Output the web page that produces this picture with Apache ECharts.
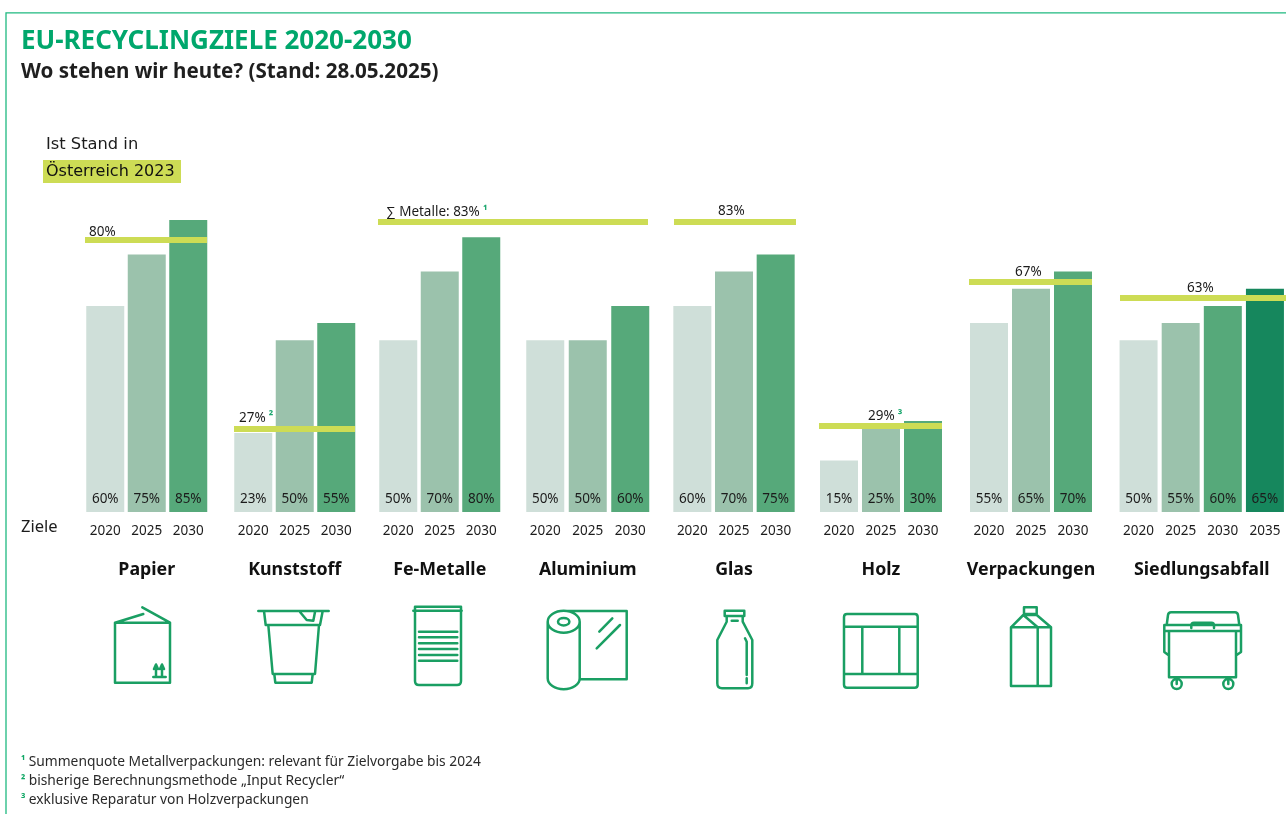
<!DOCTYPE html>
<html lang="de"><head><meta charset="utf-8">
<style>html,body{margin:0;padding:0;background:#fff}#c{width:1286px;height:814px}</style>
<script src="https://cdn.jsdelivr.net/npm/echarts@6/dist/echarts.min.js"></script>
</head><body><div id="c"></div>
<script>
// ---------- data ----------
const materials = ['Papier','Kunststoff','Fe-Metalle','Aluminium','Glas','Holz','Verpackungen','Siedlungsabfall'];
const yearsPapier = ['2020','2025','2030'];
const yearsKunststoff = ['2020','2025','2030'];
const yearsFe = ['2020','2025','2030'];
const yearsAlu = ['2020','2025','2030'];
const yearsGlas = ['2020','2025','2030'];
const yearsHolz = ['2020','2025','2030'];
const yearsVerp = ['2020','2025','2030'];
const yearsSied = ['2020','2025','2030','2035'];
// target values as printed in the bars
const zielePapier = [60,75,85];
const zieleKunststoff = [23,50,55];
const zieleFe = [50,70,80];
const zieleAlu = [50,50,60];
const zieleGlas = [60,70,75];
const zieleHolz = [15,25,30];
const zieleVerp = [55,65,70];
const zieleSied = [50,55,60,65];
// bar height as drawn: the reference draws Holz 2030 lower than its printed 30 %
const hoeheHolz = [15,25,26.5];
// current state: printed text and level as drawn in the reference
const istText = ['80%','27%','\u2211 Metalle: 83%','83%','29%','67%','63%'];
const istMark = ['','\u00B2','\u00B9','','\u00B3','',''];
const istLevel = [79.2,24.2,84.4,84.6,25,67,62.3];
const footnotes = [['\u00B9','Summenquote Metallverpackungen: relevant f\u00FCr Zielvorgabe bis 2024'],
                   ['\u00B2','bisherige Berechnungsmethode \u201EInput Recycler\u201C'],
                   ['\u00B3','exklusive Reparatur von Holzverpackungen']];

// ---------- layout and style ----------
const FONT = '"Noto Sans", sans-serif';
const LABELFONT = '"DejaVu Sans", sans-serif';
const yearColor = {'2020':'#cfdfd9','2025':'#9bc2ac','2030':'#56a97a','2035':'#16875d'};
const INK = '#1c1c1c', LIME = '#cddc55', ICON = '#1a9f63';
const Y_TOP = 168.5, Y_H = 343.5;
const groups = [
 {years:yearsPapier, vals:zielePapier, left:84.5, width:124.5},
 {years:yearsKunststoff, vals:zieleKunststoff, left:232.5, width:124.5},
 {years:yearsFe, vals:zieleFe, left:377.5, width:124.5},
 {years:yearsAlu, vals:zieleAlu, left:524, width:127.5},
 {years:yearsGlas, vals:zieleGlas, left:671.5, width:125},
 {years:yearsHolz, vals:zieleHolz, heights:hoeheHolz, left:818, width:126},
 {years:yearsVerp, vals:zieleVerp, left:968, width:126},
 {years:yearsSied, vals:zieleSied, left:1117.5, width:171}
];
const lineLayout = [
 {left:85, width:122, dx:4, top:1},
 {left:234, width:121, dx:5, top:4},
 {left:378, width:270, dx:8, top:3},
 {left:674, width:122, dx:44, top:3},
 {left:819, width:123, dx:49, top:3},
 {left:969, width:123, dx:46, top:3},
 {left:1120, width:166, dx:67, top:3}
];

const grid=[], xAxis=[], yAxis=[], series=[];
groups.forEach((g,i)=>{
  grid.push({left:g.left, width:g.width, top:Y_TOP, height:Y_H});
  xAxis.push({gridIndex:i, type:'category', data:g.years,
    name:materials[i], nameLocation:'middle', nameGap:49,
    nameTextStyle:{fontFamily:FONT, fontWeight:'bold', fontSize:17.8, color:'#111'},
    axisLine:{show:false}, axisTick:{show:false},
    axisLabel:{interval:0, margin:12, fontFamily:FONT, fontSize:13.5, color:INK}});
  yAxis.push({gridIndex:i, type:'value', min:0, max:100, show:false});
  const heights = g.heights || g.vals;
  series.push({type:'bar', xAxisIndex:i, yAxisIndex:i, barWidth:38, z:2, animation:false,
    data:heights.map((h,k)=>({value:h, itemStyle:{color:yearColor[g.years[k]]},
      label:{show:true, position:'insideBottom', distance:6, formatter:g.vals[k]+'%',
             fontFamily:FONT, fontSize:13.5, color:INK}}))});
});
lineLayout.forEach((l,j)=>{
  const i = groups.length + j;
  grid.push({left:l.left, width:l.width, top:Y_TOP, height:Y_H});
  xAxis.push({gridIndex:i, type:'category', data:[''], show:false});
  yAxis.push({gridIndex:i, type:'value', min:0, max:100, show:false});
  series.push({type:'line', xAxisIndex:i, yAxisIndex:i, data:[], z:5, animation:false, silent:true,
    markLine:{silent:true, symbol:'none', animation:false, z:5,
      lineStyle:{color:LIME, width:6, type:'solid', opacity:1},
      label:{show:true, position:'insideStartTop', distance:[l.dx,l.top],
        formatter:'{t|'+istText[j]+'}'+(istMark[j]?'{m| '+istMark[j]+'}':''),
        rich:{t:{fontFamily:FONT, fontSize:13.5, color:INK},
              m:{fontFamily:FONT, fontSize:12, fontWeight:'bold', color:'#1fa870', verticalAlign:'top'}}},
      data:[{yAxis:istLevel[j]}]}});
});

// icons
const icons = [
 'M115 622.7H170V682.7H115Z M115 622.7L143.3 614 M142.3 607.3L170 622.7 M156 676V666 M162 676V666 M153.3 677H165.7 M154 669L156 664.5L158 669 M160 669L162 664.5L164 669',
 'M258.3 611H328.7 M264 611L265.7 625H320L322.7 611 M268.3 625L272.7 674H315L319 625 M274.3 674L275.3 682.7H311.7L312.7 674 M300 612L306.7 620L313.3 620.7L315 612',
 'M415 606.7H461V681Q461 685 457 685H419Q415 685 415 681Z M413.3 610.7H461.7 M419 631.7H457.3 M419 637.3H457.3 M419 643.3H457.3 M419 649H457.3 M419 655H457.3 M419 660.7H457.3',
 'M547.7 621.7A16 11 0 1 1 579.7 621.7A16 11 0 1 1 547.7 621.7Z M558 621.7A5.7 3.7 0 1 1 569.4 621.7A5.7 3.7 0 1 1 558 621.7Z M547.7 621.7V678.3A16 11 0 0 0 579.7 678.3V621.7 M566.7 611H626.7V679.3H579.7 M599.3 631.7L612.3 618.3 M596.7 648.3L620 625',
 'M724.7 610.7H744.3V616H724.7Z M726.7 616V621.7L717.3 640V683.3Q717.3 688.3 722 688.3H748Q752.3 688.3 752.3 683.3V640L742.7 621.7V616 M731.7 620.7H737.7 M745 638.3L746.7 641.7V675 M746.7 678.3V683.3',
 'M847 614H914.7Q917.7 614 917.7 617V684.7Q917.7 687.7 914.7 687.7H847Q844 687.7 844 684.7V617Q844 614 847 614Z M844 626.7H917.7 M844 674H917.7 M862.3 626.7V674 M899.3 626.7V674',
 'M1011 627.3H1051V686H1011Z M1037.7 627.3V686 M1011 627.3L1023.3 615H1036.7L1051 627.3 M1023.3 615L1037.7 627.3 M1024 607.3H1036.7V614H1024Z',
 'M1166.7 625L1168 615Q1168.5 612.3 1171 612.3H1235Q1237.5 612.3 1238 615L1239.3 625 M1164.3 625H1241V631H1164.3Z M1164.3 631V652L1168.3 655 M1241 631V652L1236.7 655 M1169 631V677.3H1236V631 M1191.3 628V625.5Q1191.3 622.7 1194 622.7H1211.5Q1214 622.7 1214 625.5V628 M1171.7 684A5 5 0 1 0 1181.7 684A5 5 0 1 0 1171.7 684Z M1223.3 684A5 5 0 1 0 1233.3 684A5 5 0 1 0 1223.3 684Z M1176.7 679V684 M1228.3 679V684'
];
series.push({type:'custom', coordinateSystem:'none', data:[0], silent:true, animation:false, z:3,
  renderItem:()=>({type:'group', children:icons.map(d=>({type:'path', shape:{pathData:d},
    style:{fill:'none', stroke:ICON, lineWidth:2.5, lineJoin:'round', lineCap:'round'}}))})});

const graphic = [
 {type:'polyline', shape:{points:[[6,814],[6,12.8],[1286,12.8]]}, style:{fill:'none', stroke:'#1fb980', lineWidth:1.3}},
 {type:'rect', shape:{x:43,y:160,width:138,height:23}, style:{fill:LIME}},
 {type:'text', x:46, y:145, style:{text:'Ist Stand in', font:'16.3px '+LABELFONT, fill:INK, verticalAlign:'middle'}},
 {type:'text', x:46, y:172, style:{text:'\u00D6sterreich 2023', font:'16px '+LABELFONT, fill:'#111', verticalAlign:'middle'}},
 {type:'text', x:21, y:527, style:{text:'Ziele', font:'16.5px '+FONT, fill:INK, verticalAlign:'middle'}}
];
footnotes.forEach((f,i)=>graphic.push({type:'text', x:21, y:762+19*i,
  style:{text:'{m|'+f[0]+'} {t|'+f[1]+'}', verticalAlign:'middle',
    rich:{m:{fontFamily:FONT, fontSize:11.5, fontWeight:'bold', fill:'#12a866', color:'#12a866'},
          t:{fontFamily:FONT, fontSize:13.8, fill:'#2a2a2a', color:'#2a2a2a'}}}}));

const chart = echarts.init(document.getElementById('c'), null, {renderer:'canvas', width:1286, height:814});
chart.setOption({
  animation:false, backgroundColor:'#fff',
  title:[
    {text:'EU-RECYCLINGZIELE 2020-2030', left:21, top:29, padding:0,
     textStyle:{fontFamily:FONT, fontWeight:'bold', fontSize:26, color:'#00a76c'}},
    {text:'Wo stehen wir heute? (Stand: 28.05.2025)', left:21, top:62, padding:0,
     textStyle:{fontFamily:FONT, fontWeight:'bold', fontSize:20.6, color:'#1f1f1f'}}
  ],
  grid, xAxis, yAxis, series, graphic
});
</script></body></html>
